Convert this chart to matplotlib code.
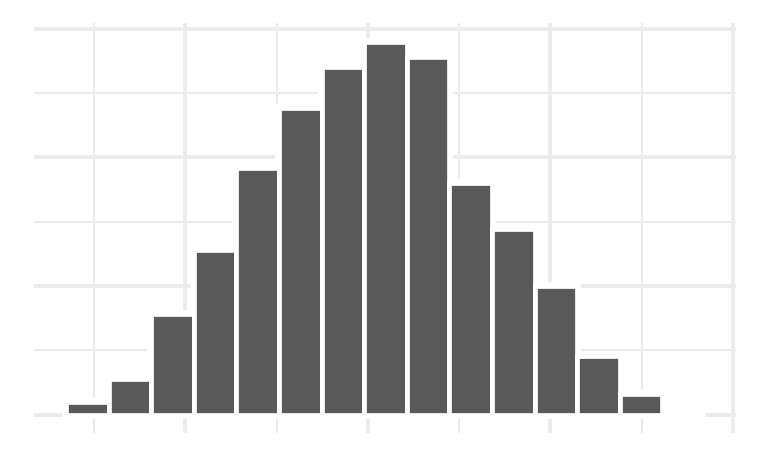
import numpy as np
import matplotlib
matplotlib.use("Agg")
import matplotlib.pyplot as plt

# Histogram data (counts per bin)
counts = [10, 28, 78, 128, 192, 238, 270, 290, 278, 180, 144, 100, 46, 16, 0]
bin_start = -0.6527
bin_width = 0.2333

x_major = [0, 1, 2, 3]
x_minor = [-0.5, 0.5, 1.5, 2.5]
y_major = [0, 100, 200, 300]
y_minor = [50, 150, 250]

DPI = 100
fig = plt.figure(figsize=(7.59, 4.68), dpi=DPI)
ax = fig.add_axes([34 / 759, 1 - 433 / 468, (736 - 34) / 759, (433 - 23) / 468])

edges = bin_start + bin_width * np.arange(len(counts) + 1)
lefts = edges[:-1]

# white halo underneath (clears the grid around bars)
ax.bar(lefts, counts, width=bin_width, align="edge", color="white",
       edgecolor="white", linewidth=5.6, zorder=2)
# the bars themselves
ax.bar(lefts, counts, width=bin_width, align="edge", color="#595959",
       edgecolor="white", linewidth=3.4, zorder=3)

ax.set_xlim(-0.828, 3.016)
ax.set_ylim(-14.2, 304.4)

ax.set_xticks(x_major)
ax.set_xticks(x_minor, minor=True)
ax.set_yticks(y_major)
ax.set_yticks(y_minor, minor=True)
ax.grid(which="major", color="#ebebeb", linewidth=2.7, zorder=0)
ax.grid(which="minor", color="#ebebeb", linewidth=1.5, zorder=0)
ax.set_axisbelow(True)
ax.tick_params(which="both", length=0, labelbottom=False, labelleft=False)
for s in ax.spines.values():
    s.set_visible(False)

fig.savefig("out.png", dpi=DPI, facecolor="white")
